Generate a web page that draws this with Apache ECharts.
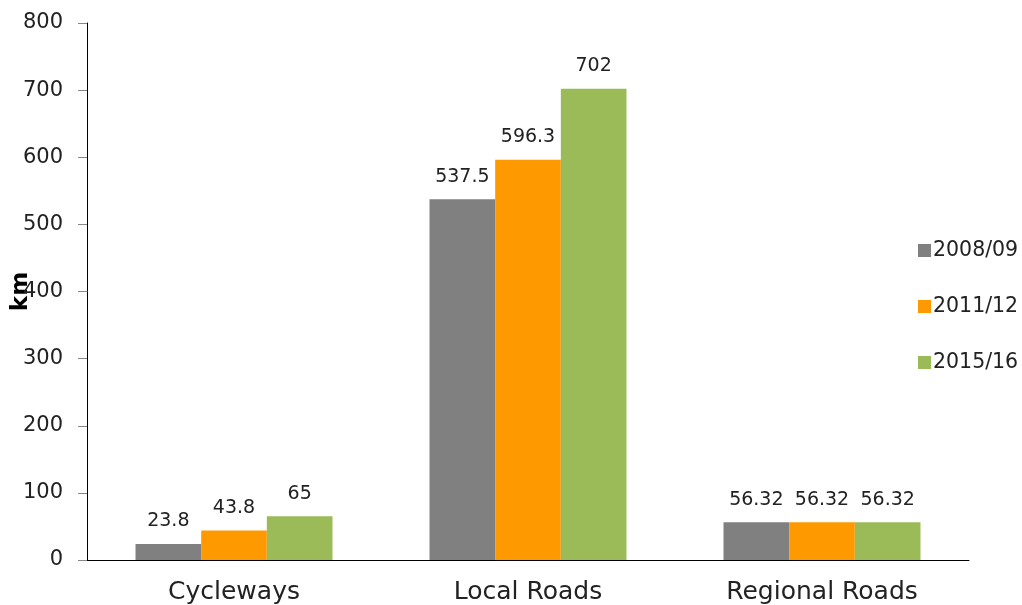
<!DOCTYPE html>
<html><head><meta charset="utf-8">
<script src="https://cdn.jsdelivr.net/npm/echarts@6/dist/echarts.min.js"></script>
<style>html,body{margin:0;padding:0;background:#fff}#c{width:1022px;height:605px}</style>
</head><body><div id="c"></div>
<script>
const categories = ['Cycleways', 'Local Roads', 'Regional Roads'];
const seriesNames = ['2008/09', '2011/12', '2015/16'];
const v2008 = [23.8, 537.5, 56.32];
const v2011 = [43.8, 596.3, 56.32];
const v2015 = [65, 702, 56.32];
const colors = ['#808080', '#ff9900', '#9bbb59'];
const font = '"DejaVu Sans", sans-serif';
const chart = echarts.init(document.getElementById('c'));
const values = [v2008, v2011, v2015];
chart.setOption({
  animation: false,
  color: colors,
  grid: {left: 87, right: 53, top: 23, bottom: 45, containLabel: false, outerBoundsMode: 'none'},
  legend: {
    orient: 'vertical', left: 913, top: 235, itemGap: 35, itemWidth: 13, itemHeight: 13,
    icon: 'rect',
    textStyle: {fontSize: 20.5, color: '#222', fontFamily: font, padding: [0,0,0,-3]},
    data: seriesNames
  },
  xAxis: {
    type: 'category', data: categories,
    axisLine: {lineStyle: {color: '#000', width: 1}},
    axisTick: {length: 5, lineStyle: {color: '#888'}},
    axisLabel: {fontSize: 25, color: '#222', fontFamily: font, margin: 20}
  },
  yAxis: {
    type: 'value', min: 0, max: 800, interval: 100,
    name: 'km', nameLocation: 'middle', nameGap: 54, nameRotate: 90, nameMoveOverlap: false,
    nameTextStyle: {fontSize: 23, fontWeight: 'bold', color: '#000', fontFamily: font},
    axisLine: {show: true, lineStyle: {color: '#000'}},
    axisTick: {show: true, length: 9, lineStyle: {color: '#888'}},
    splitLine: {show: false},
    axisLabel: {fontSize: 21, color: '#222', fontFamily: font, margin: 24}
  },
  series: seriesNames.map((n, i) => ({
    name: n, type: 'bar', data: values[i],
    barGap: '0%', barCategoryGap: '33%',
    label: {show: true, position: 'top', distance: 13, fontSize: 19, color: '#222', fontFamily: font}
  }))
});
</script></body></html>
